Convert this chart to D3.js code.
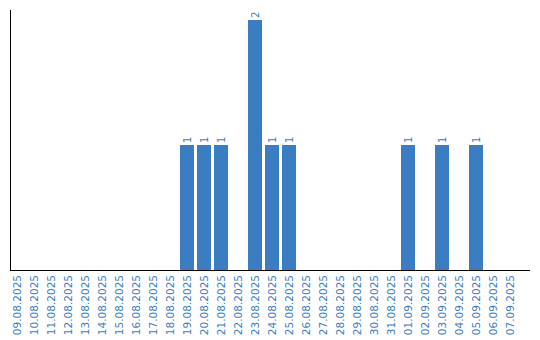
<!DOCTYPE html>
<html>
<head>
<meta charset="utf-8">
<script src="https://cdn.jsdelivr.net/npm/d3@7"></script>
<style>
  body { margin: 0; background: #fff; }
  svg text { font-family: "DejaVu Sans", Verdana, sans-serif; }
</style>
</head>
<body>
<div id="chart"></div>
<script>
// one bar per day, count of events
let days = ['09.08.2025', '10.08.2025', '11.08.2025', '12.08.2025', '13.08.2025',
  '14.08.2025', '15.08.2025', '16.08.2025', '17.08.2025', '18.08.2025',
  '19.08.2025', '20.08.2025', '21.08.2025', '22.08.2025', '23.08.2025',
  '24.08.2025', '25.08.2025', '26.08.2025', '27.08.2025', '28.08.2025',
  '29.08.2025', '30.08.2025', '31.08.2025', '01.09.2025', '02.09.2025',
  '03.09.2025', '04.09.2025', '05.09.2025', '06.09.2025', '07.09.2025'];
let counts = [0, 0, 0, 0, 0, 0, 0, 0, 0, 0,
  1, 1, 1, 0, 2, 1, 1, 0, 0, 0,
  0, 0, 0, 1, 0, 1, 0, 1, 0, 0];

const COLOR = '#3b7dc3';

let width = 540,
  height = 340,
  mLeft = 10,
  mTop = 10,
  mBottom = 270,
  mRight = 530;

let svg = d3.select('#chart')
  .append('svg')
  .attr('width', width)
  .attr('height', height);

let x = d3.scaleBand()
  .domain(days)
  .range([mLeft, mLeft + 507])
  .paddingInner(3 / 17)
  .paddingOuter(0);

let y = d3.scaleLinear()
  .domain([0, 2.08])
  .range([mBottom, mTop]);

let data = days.map((d, i) => ({ day: d, n: counts[i] }));

svg.append('g')
  .selectAll('rect')
  .data(data.filter(d => d.n > 0))
  .enter()
  .append('rect')
  .attr('x', d => x(d.day))
  .attr('y', d => y(d.n))
  .attr('width', x.bandwidth())
  .attr('height', d => y(0) - y(d.n))
  .attr('fill', COLOR);

// value labels above bars, rotated
svg.append('g')
  .selectAll('text')
  .data(data.filter(d => d.n > 0))
  .enter()
  .append('text')
  .attr('transform', d => `translate(${x(d.day) + x.bandwidth() / 2 + 3.5},${y(d.n) - 2}) rotate(-90)`)
  .attr('text-anchor', 'start')
  .attr('font-size', 10)
  .attr('fill', COLOR)
  .text(d => d.n);

// axes: plain lines, no ticks
svg.append('line')
  .attr('x1', mLeft + 0.5).attr('x2', mLeft + 0.5)
  .attr('y1', mTop).attr('y2', mBottom)
  .attr('stroke', '#000');
svg.append('line')
  .attr('x1', mLeft).attr('x2', mRight)
  .attr('y1', mBottom + 0.5).attr('y2', mBottom + 0.5)
  .attr('stroke', '#000');

svg.append('g')
  .selectAll('text')
  .data(days)
  .enter()
  .append('text')
  .attr('transform', d => `translate(${x(d) + x.bandwidth() / 2 + 4},${mBottom + 5}) rotate(-90)`)
  .attr('text-anchor', 'end')
  .attr('font-size', 10.5)
  .attr('fill', COLOR)
  .text(d => d);
</script>
</body>
</html>
